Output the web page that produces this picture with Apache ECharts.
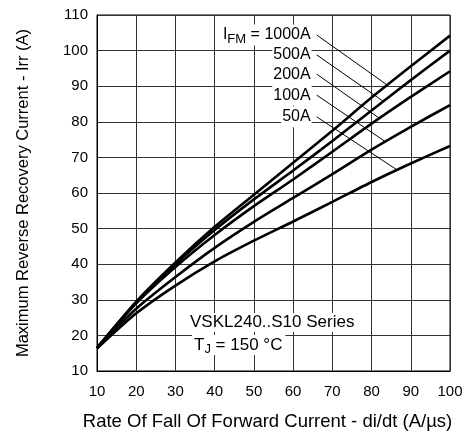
<!DOCTYPE html>
<html>
<head>
<meta charset="utf-8">
<script src="https://cdn.jsdelivr.net/npm/echarts@6/dist/echarts.min.js"></script>
<style>
  html, body { margin: 0; padding: 0; background: #fff; }
  #chart { width: 470px; height: 438px; }
</style>
</head>
<body>
<div id="chart"></div>
<script>
// Rate of fall of forward current di/dt (A/µs)
const rates = [10, 20, 30, 40, 50, 60, 70, 80, 90, 100];

// Maximum reverse recovery current Irr (A) for each forward current I_FM
const irr1000 = [16.5, 29.5, 40.5, 50.5, 59.5, 68.5, 77.5, 86.8, 95.6, 104.2];
const irr500  = [16.5, 29.2, 40.0, 49.6, 58.2, 66.3, 74.6, 83.2, 91.7, 100.0];
const irr200  = [16.5, 29.0, 39.2, 48.2, 56.3, 63.8, 71.6, 79.5, 87.0, 94.2];
const irr100  = [16.5, 27.5, 36.4, 44.6, 51.9, 58.6, 65.3, 72.2, 78.6, 84.7];
const irr50   = [16.3, 26.2, 34.0, 40.8, 46.6, 52.0, 57.5, 63.1, 68.3, 73.2];

const currentNames = ['1000A', '500A', '200A', '100A', '50A'];
const curves = [irr1000, irr500, irr200, irr100, irr50];

// Callout anchors (data units): where each label sits and where its leader meets the curve
const calloutRate = 66;
const calloutIrr = [104.4, 98.8, 93.4, 87.5, 81.4];
const leaderEndRate = [84, 83, 82, 83.5, 86.5];

const seriesTitle = 'VSKL240..S10 Series';

const FONT = '"Liberation Sans", Arial, sans-serif';

function interp(xs, ys, x) {
  for (let i = 0; i < xs.length - 1; i++) {
    if (x >= xs[i] && x <= xs[i + 1]) {
      const t = (x - xs[i]) / (xs[i + 1] - xs[i]);
      return ys[i] + t * (ys[i + 1] - ys[i]);
    }
  }
  return ys[ys.length - 1];
}

const curveSeries = curves.map((ys, k) => ({
  name: currentNames[k],
  type: 'line',
  data: rates.map((r, i) => [r, ys[i]]),
  showSymbol: false,
  symbol: 'none',
  smooth: 0.25,
  lineStyle: { color: '#000', width: 2.6 },
  z: 5
}));

const leaderSeries = currentNames.map((nm, k) => {
  const endRate = leaderEndRate[k];
  const endIrr = interp(rates, curves[k], endRate);
  const text = k === 0 ? '{a|I}{s|FM}{a| = ' + nm + '}' : '{a|' + nm + '}';
  return {
    type: 'line',
    data: [
      {
        value: [calloutRate, calloutIrr[k]],
        label: {
          show: true,
          position: 'left',
          distance: 5,
          formatter: text,
          backgroundColor: '#fff',
          padding: [2, 1, 2, 1],
          rich: {
            a: { fontFamily: FONT, fontSize: 16, color: '#000', lineHeight: 17 },
            s: { fontFamily: FONT, fontSize: 13, color: '#000', padding: [8, 0, 0, 0], lineHeight: 17 }
          }
        }
      },
      { value: [endRate, endIrr] }
    ],
    symbol: 'circle',
    symbolSize: 0,
    showSymbol: true,
    lineStyle: { color: '#000', width: 1 },
    z: 4,
    silent: true
  };
});

const chart = echarts.init(document.getElementById('chart'), null, { renderer: 'canvas' });

chart.setOption({
  animation: false,
  backgroundColor: '#fff',
  grid: {
    left: 97, right: 20, top: 15, bottom: 67,
    show: true, borderColor: '#000', borderWidth: 1, backgroundColor: 'transparent'
  },
  xAxis: {
    type: 'value',
    min: 10, max: 100, interval: 10,
    name: 'Rate Of Fall Of Forward Current - di/dt (A/µs)',
    nameLocation: 'middle',
    nameGap: 41,
    nameTextStyle: { fontFamily: FONT, fontSize: 18.5, color: '#000', padding: [0, 12, 0, 0] },
    axisLine: { show: true, lineStyle: { color: '#000', width: 1 } },
    axisTick: { show: false },
    axisLabel: { fontFamily: FONT, fontSize: 15, color: '#000', margin: 13 },
    splitLine: { show: true, lineStyle: { color: '#333', width: 1 } }
  },
  yAxis: {
    type: 'value',
    min: 10, max: 110, interval: 10,
    name: 'Maximum Reverse Recovery Current - Irr (A)',
    nameLocation: 'middle',
    nameGap: 65,
    nameRotate: 90,
    nameTextStyle: { fontFamily: FONT, fontSize: 16.5, color: '#000' },
    axisLine: { show: true, lineStyle: { color: '#000', width: 1 } },
    axisTick: { show: false },
    axisLabel: { fontFamily: FONT, fontSize: 15, color: '#000', margin: 9 },
    splitLine: { show: true, lineStyle: { color: '#333', width: 1 } }
  },
  graphic: [
    {
      type: 'text',
      left: 188, top: 313,
      z: 10,
      style: {
        text: seriesTitle,
        fontFamily: FONT, fontSize: 17, fill: '#000',
        backgroundColor: '#fff', padding: [1, 14, 1, 2]
      }
    },
    {
      type: 'text',
      left: 192, top: 334,
      z: 10,
      style: {
        text: '{a|T}{s|J}{a| = 150 °C}',
        backgroundColor: '#fff', padding: [1, 3, 1, 2],
        rich: {
          a: { fontFamily: FONT, fontSize: 17, fill: '#000', lineHeight: 18 },
          s: { fontFamily: FONT, fontSize: 13, fill: '#000', padding: [9, 0, 0, 0], lineHeight: 18 }
        }
      }
    }
  ],
  series: curveSeries.concat(leaderSeries)
});
</script>
</body>
</html>
